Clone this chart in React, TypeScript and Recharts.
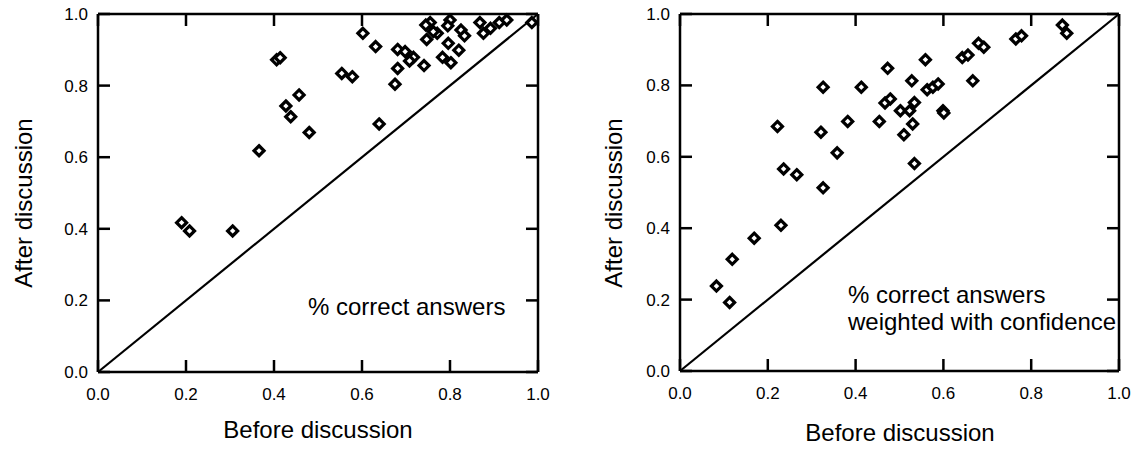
import React from 'react';
import { ScatterChart, Scatter, XAxis, YAxis } from 'recharts';

// left panel: % correct answers
const beforeA = [
  0.602, 0.631, 0.406, 0.414, 0.554, 0.578, 0.457, 0.427, 0.438, 0.48,
  0.639, 0.366, 0.675, 0.681, 0.681, 0.698, 0.717, 0.708, 0.741, 0.747,
  0.755, 0.745, 0.771, 0.762, 0.8, 0.795, 0.796, 0.783, 0.802, 0.82,
  0.825, 0.833, 0.868, 0.876, 0.892, 0.912, 0.929, 0.986, 0.19, 0.208, 0.306,
];
const afterA = [
  0.946, 0.909, 0.872, 0.878, 0.834, 0.825, 0.774, 0.743, 0.713, 0.669,
  0.693, 0.618, 0.804, 0.848, 0.901, 0.895, 0.879, 0.869, 0.856, 0.929,
  0.976, 0.969, 0.946, 0.951, 0.983, 0.967, 0.918, 0.879, 0.864, 0.899,
  0.955, 0.939, 0.976, 0.946, 0.96, 0.976, 0.983, 0.976, 0.417, 0.394, 0.394,
];

// right panel: % correct answers weighted with confidence
const beforeB = [
  0.871, 0.881, 0.765, 0.778, 0.68, 0.692, 0.643, 0.656, 0.559, 0.473,
  0.667, 0.528, 0.326, 0.413, 0.563, 0.576, 0.588, 0.467, 0.479, 0.534,
  0.502, 0.523, 0.599, 0.601, 0.222, 0.382, 0.454, 0.321, 0.53, 0.51,
  0.358, 0.534, 0.236, 0.266, 0.326, 0.23, 0.169, 0.119, 0.083, 0.113,
];
const afterB = [
  0.969, 0.946, 0.93, 0.939, 0.918, 0.907, 0.878, 0.885, 0.872, 0.848,
  0.813, 0.813, 0.795, 0.795, 0.788, 0.795, 0.804, 0.751, 0.762, 0.752,
  0.729, 0.729, 0.729, 0.723, 0.685, 0.699, 0.699, 0.669, 0.692, 0.662,
  0.611, 0.581, 0.566, 0.55, 0.513, 0.408, 0.372, 0.313, 0.238, 0.192,
];

const ticks = [0, 0.2, 0.4, 0.6, 0.8, 1.0];
const diagonal = [{ x: 0, y: 0 }, { x: 1, y: 1 }];

const FONT = '"Liberation Sans", Arial, Helvetica, sans-serif';
const fmt = (v: number) => v.toFixed(1);
const blank = () => '';

const Diamond = (props: any) => {
  const { cx, cy } = props;
  const r = 5;
  return (
    <path
      d={`M${cx},${cy - r}L${cx + r},${cy}L${cx},${cy + r}L${cx - r},${cy}Z`}
      fill="#fff"
      stroke="#000"
      strokeWidth={3.2}
    />
  );
};

function Panel({ before, after, width, yAxisWidth, xAxisHeight, rightMargin, xTitle, yTitle, note }: any) {
  const data = before.map((b: number, i: number) => ({ x: b, y: after[i] }));
  return (
    <ScatterChart width={width} height={434} margin={{ top: 5, right: rightMargin, bottom: 0, left: 0 }}>
      <XAxis xAxisId="b" dataKey="x" type="number" domain={[0, 1]} ticks={ticks} interval={0}
        height={xAxisHeight} tickSize={-12} tickMargin={28}
        tick={{ fontSize: 17, fill: '#000', fontFamily: FONT }} tickFormatter={fmt}
        axisLine={{ stroke: '#000', strokeWidth: 2.5 }} tickLine={{ stroke: '#000', strokeWidth: 2.5 }} />
      <XAxis xAxisId="t" orientation="top" dataKey="x" type="number" domain={[0, 1]} ticks={ticks} interval={0}
        height={1} tickSize={-12} tickFormatter={blank}
        axisLine={{ stroke: '#000', strokeWidth: 2.5 }} tickLine={{ stroke: '#000', strokeWidth: 2.5 }} />
      <YAxis yAxisId="l" dataKey="y" type="number" domain={[0, 1]} ticks={ticks} interval={0}
        width={yAxisWidth} tickSize={-12} tickMargin={22}
        tick={{ fontSize: 17, fill: '#000', fontFamily: FONT }} tickFormatter={fmt}
        axisLine={{ stroke: '#000', strokeWidth: 2.5 }} tickLine={{ stroke: '#000', strokeWidth: 2.5 }} />
      <YAxis yAxisId="r" orientation="right" dataKey="y" type="number" domain={[0, 1]} ticks={ticks} interval={0}
        width={1} tickSize={-12} tickFormatter={blank}
        axisLine={{ stroke: '#000', strokeWidth: 2.5 }} tickLine={{ stroke: '#000', strokeWidth: 2.5 }} />
      <Scatter xAxisId="t" yAxisId="r" data={diagonal} line={{ stroke: '#000', strokeWidth: 2.2 }}
        shape={() => <g />} isAnimationActive={false} />
      <Scatter xAxisId="b" yAxisId="l" data={data} shape={<Diamond />} isAnimationActive={false} />
      <text x={xTitle.x} y={xTitle.y} textAnchor="middle" fontSize={24} fontFamily={FONT} fill="#000">
        Before discussion
      </text>
      <text x={yTitle.x} y={yTitle.y} transform={`rotate(-90 ${yTitle.x} ${yTitle.y})`} textAnchor="middle"
        fontSize={24} fontFamily={FONT} fill="#000">
        After discussion
      </text>
      <text x={note.x} y={note.y} fontSize={24} fontFamily={FONT} fill="#000">
        {note.lines.map((t: string, i: number) => (
          <tspan key={i} x={note.x} dy={i === 0 ? 0 : 27}>{t}</tspan>
        ))}
      </text>
    </ScatterChart>
  );
}

export default function App() {
  return (
    <div style={{ display: 'flex' }}>
      <Panel before={beforeA} after={afterA} width={572} yAxisWidth={90} xAxisHeight={70} rightMargin={41}
        xTitle={{ x: 310, y: 430 }} yTitle={{ x: 24, y: 195 }}
        note={{ x: 300, y: 307, lines: ['% correct answers'] }} />
      <Panel before={beforeB} after={afterB} width={555} yAxisWidth={100} xAxisHeight={71} rightMargin={15}
        xTitle={{ x: 320, y: 433 }} yTitle={{ x: 42, y: 195 }}
        note={{ x: 268, y: 295, lines: ['% correct answers', 'weighted with confidence'] }} />
    </div>
  );
}
